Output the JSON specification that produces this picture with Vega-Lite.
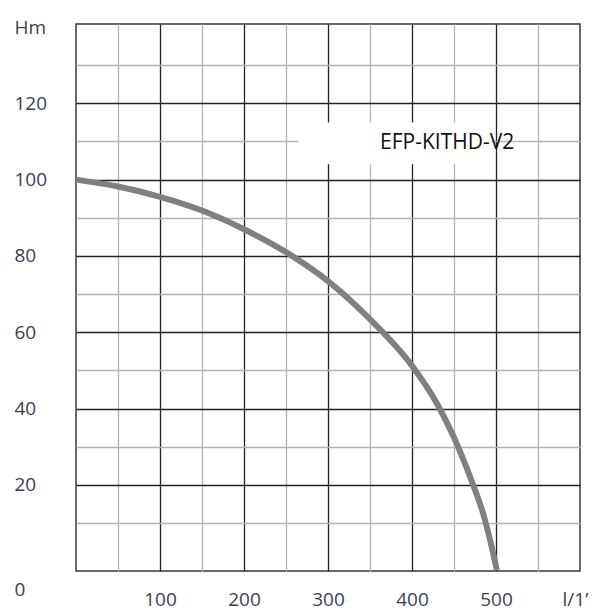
{
  "$schema": "https://vega.github.io/schema/vega-lite/v6.json",
  "width": 504,
  "height": 547,
  "autosize": {"type": "none"},
  "padding": {"left": 76, "top": 24, "right": 12, "bottom": 41},
  "background": "white",
  "config": {"view": {"stroke": "#3a3a3a", "strokeWidth": 1.5}, "font": "Open Sans"},
  "datasets": {
    "curve": [
      {"q": 0, "h": 100},
      {"q": 50, "h": 98.2},
      {"q": 100, "h": 95.5},
      {"q": 150, "h": 91.9},
      {"q": 200, "h": 87.0},
      {"q": 250, "h": 81.0},
      {"q": 300, "h": 73.4},
      {"q": 350, "h": 63.4},
      {"q": 400, "h": 51.2},
      {"q": 430, "h": 41.2},
      {"q": 450, "h": 32.4},
      {"q": 470, "h": 21.6},
      {"q": 485, "h": 12.2},
      {"q": 495, "h": 3.6},
      {"q": 501, "h": -2.4}
    ],
    "mask": [{"q": 265, "q2": 495, "h": 104, "h2": 115}],
    "label": [{"q": 362, "h": 109.6, "text": "EFP-KITHD-V2"}]
  },
  "encoding": {
    "x": {
      "field": "q",
      "type": "quantitative",
      "title": null,
      "scale": {"domain": [0, 600], "nice": false, "zero": false},
      "axis": {
        "values": [50, 100, 150, 200, 250, 300, 350, 400, 450, 500, 550, 600],
        "labelExpr": "datum.value == 600 ? 'l/1’' : (datum.value % 100 == 0 ? datum.label : '')",
        "grid": true,
        "gridColor": {"condition": {"test": "datum.value % 100 == 0", "value": "#222222"}, "value": "#b3b3b3"},
        "gridOpacity": {"condition": {"test": "datum.value >= 600", "value": 0}, "value": 1},
        "gridWidth": 1.3,
        "ticks": false,
        "tickSize": 0,
        "domain": false,
        "labelPadding": 19,
        "labelFontSize": 19,
        "labelFont": "Open Sans",
        "labelColor": "#404050",
        "labelOverlap": false,
        "labelBound": false,
        "labelFlush": false,
        "labelOffset": {"condition": {"test": "datum.value == 600", "value": -5}, "value": 0}
      }
    },
    "y": {
      "field": "h",
      "type": "quantitative",
      "title": null,
      "scale": {"domain": [-2.6, 140.8], "nice": false, "zero": false},
      "axis": {
        "values": [0, 10, 20, 30, 40, 50, 60, 70, 80, 90, 100, 110, 120, 130, 140],
        "labelExpr": "datum.value == 140 ? 'Hm' : (datum.value % 20 == 0 ? datum.label : '')",
        "grid": true,
        "gridColor": {"condition": {"test": "datum.value % 20 == 0", "value": "#222222"}, "value": "#b3b3b3"},
        "gridOpacity": {"condition": {"test": "datum.value == 0 || datum.value == 140", "value": 0}, "value": 1},
        "gridWidth": 1.3,
        "ticks": false,
        "tickSize": 0,
        "domain": false,
        "labelAlign": "left",
        "labelBaseline": "middle",
        "labelPadding": 62,
        "labelFontSize": 19,
        "labelFont": "Open Sans",
        "labelColor": "#404050",
        "labelOverlap": false,
        "labelBound": false,
        "labelFlush": false,
        "labelOffset": {"condition": {"test": "datum.value == 0", "value": 28}, "value": 0}
      }
    }
  },
  "layer": [
    {
      "data": {"name": "mask"},
      "mark": {"type": "rect", "fill": "white"},
      "encoding": {"x2": {"field": "q2"}, "y2": {"field": "h2"}}
    },
    {
      "data": {"name": "curve"},
      "mark": {"type": "line", "interpolate": "monotone", "color": "#808080", "strokeWidth": 6},
      "encoding": {}
    },
    {
      "data": {"name": "label"},
      "mark": {"type": "text", "align": "left", "baseline": "middle", "fontSize": 21, "font": "Open Sans", "color": "#111111"},
      "encoding": {"text": {"field": "text"}}
    }
  ]
}
